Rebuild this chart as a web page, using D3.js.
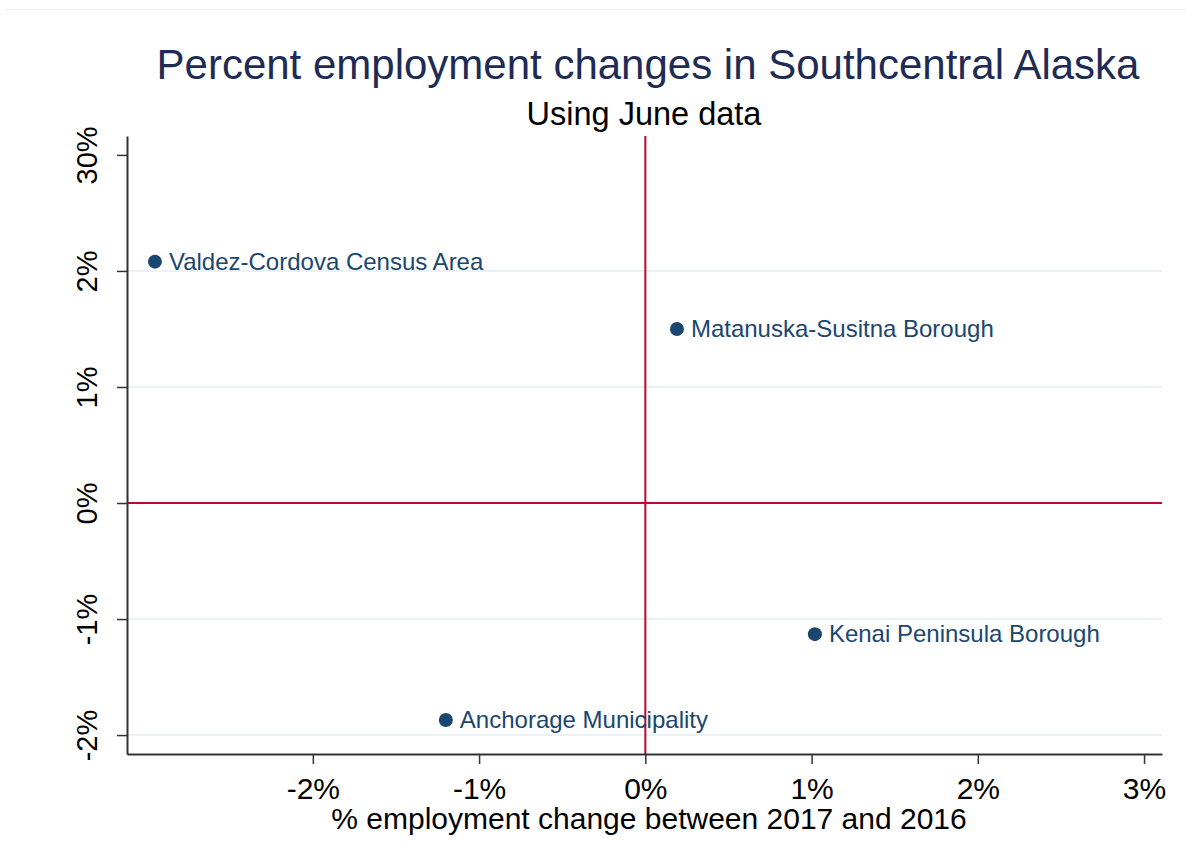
<!DOCTYPE html>
<html>
<head>
<meta charset="utf-8">
<script src="https://cdn.jsdelivr.net/npm/d3@7"></script>
<style>
  body { margin: 0; background: #fff; }
  text { font-family: "Liberation Sans", Arial, sans-serif; }
</style>
</head>
<body>
<script>
// data
var areas = ["Valdez-Cordova Census Area", "Matanuska-Susitna Borough", "Kenai Peninsula Borough", "Anchorage Municipality"];
var xChange = [-2.95, 0.19, 1.02, -1.2];
var yChange = [2.08, 1.5, -1.13, -1.87];

var xTicks = [-2, -1, 0, 1, 2, 3];
var xTickLabels = ["-2%", "-1%", "0%", "1%", "2%", "3%"];
var yTicks = [-2, -1, 0, 1, 2, 3];
var yTickLabels = ["-2%", "-1%", "0%", "1%", "2%", "30%"];

var svgWidth = 1186;
var svgHeight = 865;

var margin = { top: 136, right: 24, bottom: 111, left: 127 };
var width = svgWidth - margin.left - margin.right;
var height = svgHeight - margin.top - margin.bottom;

var svg = d3.select("body").append("svg")
  .attr("width", svgWidth)
  .attr("height", svgHeight);

// faint frame line at top
svg.append("line")
  .attr("x1", 5).attr("x2", svgWidth)
  .attr("y1", 9.5).attr("y2", 9.5)
  .attr("stroke", "#eeeeee");

var chart = svg.append("g")
  .attr("transform", `translate(${margin.left}, ${margin.top})`);

var x = d3.scaleLinear().domain([-3.118, 3.108]).range([0, width]);
var y = d3.scaleLinear().domain([-2.163, 3.163]).range([height, 0]);

// gridlines
chart.selectAll(".grid")
  .data(yTicks.filter(d => d !== 0 && d !== 3))
  .enter().append("line")
  .attr("x1", 0).attr("x2", width)
  .attr("y1", d => y(d)).attr("y2", d => y(d))
  .attr("stroke", "#eaf2f3")
  .attr("stroke-width", 2);

// reference lines at 0
chart.append("line")
  .attr("x1", x(0)).attr("x2", x(0))
  .attr("y1", 0).attr("y2", height)
  .attr("stroke", "#c10534").attr("stroke-width", 2);
chart.append("line")
  .attr("x1", 0).attr("x2", width)
  .attr("y1", y(0)).attr("y2", y(0))
  .attr("stroke", "#c10534").attr("stroke-width", 2);

// axes
var xAxis = d3.axisBottom(x).tickValues(xTicks)
  .tickFormat((d, i) => xTickLabels[i]).tickSize(10).tickPadding(14).tickSizeOuter(0);
var gx = chart.append("g")
  .attr("transform", `translate(0, ${height})`)
  .call(xAxis);
gx.select(".domain").attr("stroke", "#333").attr("stroke-width", 2);
gx.selectAll(".tick line").attr("stroke", "#333").attr("stroke-width", 1.5);
gx.selectAll(".tick text")
  .attr("fill", "#000")
  .style("font-size", "30px")
  .style("font-family", "'Liberation Sans', Arial, sans-serif");

var yAxis = d3.axisLeft(y).tickValues(yTicks)
  .tickFormat((d, i) => yTickLabels[i]).tickSize(10).tickSizeOuter(0);
var gy = chart.append("g").call(yAxis);
gy.select(".domain").attr("stroke", "#333").attr("stroke-width", 2);
gy.selectAll(".tick line").attr("stroke", "#333").attr("stroke-width", 1.5);
gy.selectAll(".tick text")
  .attr("fill", "#000")
  .attr("x", 0).attr("dy", 0)
  .attr("transform", "translate(-30, 0) rotate(-90)")
  .attr("text-anchor", "middle")
  .style("font-size", "29px")
  .style("font-family", "'Liberation Sans', Arial, sans-serif");

// points
var pts = chart.selectAll(".pt")
  .data(areas)
  .enter().append("g");

pts.append("circle")
  .attr("cx", (d, i) => x(xChange[i]))
  .attr("cy", (d, i) => y(yChange[i]))
  .attr("r", 7)
  .attr("fill", "#1a476f");

pts.append("text")
  .attr("x", (d, i) => x(xChange[i]) + 14)
  .attr("y", (d, i) => y(yChange[i]) + 8)
  .attr("fill", "#1a476f")
  .style("font-size", "24px")
  .text(d => d);

// titles
svg.append("text")
  .attr("x", 648).attr("y", 79)
  .attr("text-anchor", "middle")
  .attr("fill", "#1e2c55")
  .style("font-size", "42px")
  .text("Percent employment changes in Southcentral Alaska");

svg.append("text")
  .attr("x", 644).attr("y", 125)
  .attr("text-anchor", "middle")
  .attr("fill", "#000")
  .style("font-size", "32.5px")
  .text("Using June data");

svg.append("text")
  .attr("x", 649).attr("y", 829)
  .attr("text-anchor", "middle")
  .attr("fill", "#000")
  .style("font-size", "30px")
  .text("% employment change between 2017 and 2016");
</script>
</body>
</html>
